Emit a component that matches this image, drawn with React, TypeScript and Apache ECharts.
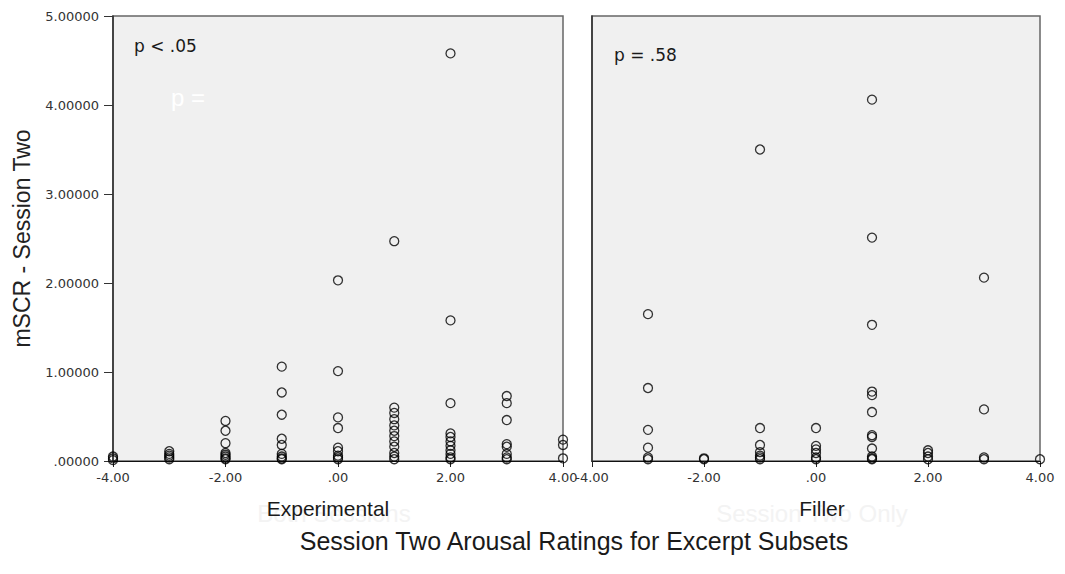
import React, { useEffect, useRef } from "react";
import * as echarts from "echarts";

// Arousal rating categories (x) and mSCR values (y) per category
const expRatings = [-4, -3, -2, -1, 0, 1, 2, 3, 4];
const expValues = [
  [0.05, 0.03, 0.01],
  [0.11, 0.08, 0.06, 0.04, 0.02],
  [0.45, 0.34, 0.2, 0.09, 0.07, 0.05, 0.03, 0.02],
  [1.06, 0.77, 0.52, 0.25, 0.18, 0.08, 0.05, 0.03, 0.02],
  [2.03, 1.01, 0.49, 0.37, 0.15, 0.11, 0.06, 0.04, 0.02],
  [2.47, 0.6, 0.54, 0.47, 0.4, 0.34, 0.28, 0.22, 0.16, 0.09, 0.05, 0.02],
  [4.58, 1.58, 0.65, 0.31, 0.27, 0.22, 0.17, 0.12, 0.08, 0.04, 0.02],
  [0.73, 0.65, 0.46, 0.19, 0.16, 0.08, 0.04, 0.02],
  [0.24, 0.18, 0.03],
];

const fillerRatings = [-3, -2, -1, 0, 1, 2, 3, 4];
const fillerValues = [
  [1.65, 0.82, 0.35, 0.15, 0.04, 0.02],
  [0.03, 0.02],
  [3.5, 0.37, 0.18, 0.1, 0.06, 0.04, 0.02],
  [0.37, 0.17, 0.13, 0.09, 0.04, 0.02],
  [4.06, 2.51, 1.53, 0.78, 0.74, 0.55, 0.29, 0.27, 0.14, 0.05, 0.03, 0.02],
  [0.12, 0.09, 0.05, 0.02],
  [2.06, 0.58, 0.04, 0.02],
  [0.02],
];

const panelNames = ["Experimental", "Filler"];
const ghostNames = ["Both Sessions", "Session Two Only"];
const pValues = ["p < .05", "p = .58"];
const yAxisTitle = "mSCR - Session Two";
const xAxisTitle = "Session Two Arousal Ratings for Excerpt Subsets";

const toPoints = (xs: number[], vs: number[][]) => {
  const pts: number[][] = [];
  xs.forEach((x, i) => vs[i].forEach((v) => pts.push([x, v])));
  return pts;
};

const FONT = "'Liberation Sans', Arial, sans-serif";
const WIDE = "'DejaVu Sans', sans-serif";

export default function App() {
  const ref = useRef<HTMLDivElement>(null);
  useEffect(() => {
    document.body.style.margin = "0";
    const chart = echarts.init(ref.current!, null, { renderer: "svg" });
    const xLabel = (v: number) => (v === 0 ? ".00" : v.toFixed(2));
    const yLabel = (v: number) => (v === 0 ? ".00000" : v.toFixed(5));
    const grids = [
      { left: 113, top: 16, width: 450, height: 445 },
      { left: 592, top: 16, width: 448, height: 445 },
    ].map((g) => ({
      ...g,
      show: true,
      backgroundColor: "#f0f0f0",
      borderColor: "#666",
      borderWidth: 1.5,
    }));
    const xAxes = [0, 1].map((i) => ({
      type: "value",
      gridIndex: i,
      min: -4,
      max: 4,
      interval: 2,
      axisLine: { show: true, onZero: false, lineStyle: { color: "#111", width: 1.2 } },
      axisTick: { show: true, length: 6, lineStyle: { color: "#222" } },
      axisLabel: {
        show: true,
        formatter: xLabel,
        fontFamily: WIDE,
        fontSize: 13,
        color: "#333",
        margin: 10,
        showMinLabel: true,
        showMaxLabel: true,
        hideOverlap: false,
      },
      splitLine: { show: false },
    }));
    const yAxes = [0, 1].map((i) => ({
      type: "value",
      gridIndex: i,
      min: 0,
      max: 5,
      interval: 1,
      name: i === 0 ? yAxisTitle : "",
      nameLocation: "middle",
      nameGap: 80,
      nameTextStyle: { fontFamily: FONT, fontSize: 23, color: "#222" },
      axisLine: { show: true, onZero: false, lineStyle: { color: "#333", width: 1.6 } },
      axisTick: { show: i === 0, length: 9, lineStyle: { color: "#333" } },
      axisLabel: {
        show: i === 0,
        formatter: yLabel,
        fontFamily: WIDE,
        fontSize: 13,
        color: "#333",
        margin: 14,
      },
      splitLine: { show: false },
    }));
    const seriesBase = {
      type: "scatter",
      symbol: "circle",
      symbolSize: 9,
      clip: true,
      itemStyle: { color: "rgba(0,0,0,0)", borderColor: "#000", borderWidth: 1.3 },
      emphasis: { disabled: true },
    };
    const txt = (text: string, x: number, y: number, font: string, fill: string, align = "left") => ({
      type: "text",
      x,
      y,
      silent: true,
      style: { text, font, fill, textAlign: align, textVerticalAlign: "middle", verticalAlign: "middle" },
    });
    chart.setOption({
      animation: false,
      grid: grids,
      xAxis: xAxes,
      yAxis: yAxes,
      series: [
        { ...seriesBase, name: panelNames[0], xAxisIndex: 0, yAxisIndex: 0, data: toPoints(expRatings, expValues) },
        { ...seriesBase, name: panelNames[1], xAxisIndex: 1, yAxisIndex: 1, data: toPoints(fillerRatings, fillerValues) },
      ],
      graphic: [
        txt(ghostNames[0], 334, 513, `24px ${FONT}`, "#f3f3f3", "center"),
        txt(ghostNames[1], 812, 513, `24px ${FONT}`, "#f3f3f3", "center"),
        txt(pValues[0], 134, 46, `17px ${WIDE}`, "#1a1a1a"),
        txt(pValues[1], 614, 55, `17px ${WIDE}`, "#1a1a1a"),
        txt("p =", 171, 97, `24px ${FONT}`, "#ffffff"),
        txt(panelNames[0], 328, 508, `21px ${FONT}`, "#1a1a1a", "center"),
        txt(panelNames[1], 822, 508, `21px ${FONT}`, "#1a1a1a", "center"),
        txt(xAxisTitle, 574, 541, `25px ${FONT}`, "#1a1a1a", "center"),
      ],
    });
    return () => chart.dispose();
  }, []);
  return <div ref={ref} style={{ width: 1065, height: 574 }} />;
}
